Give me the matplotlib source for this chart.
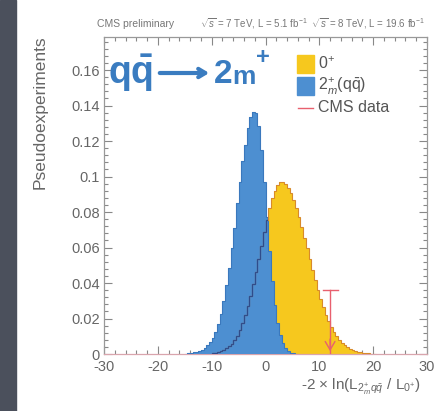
import matplotlib
matplotlib.use("Agg")
import numpy as np
import matplotlib.pyplot as plt
from matplotlib.patches import Rectangle
from matplotlib.ticker import MultipleLocator, FixedLocator, FixedFormatter

plt.rcParams["font.family"] = ["Liberation Sans", "DejaVu Sans"]
plt.rcParams["mathtext.fontset"] = "custom"
plt.rcParams["mathtext.rm"] = "Liberation Sans"
plt.rcParams["mathtext.it"] = "Liberation Sans:italic"
plt.rcParams["mathtext.bf"] = "Liberation Sans:bold"

# pseudo-experiment distributions, bin width 0.5
BIN_W = 0.5
blue_start = -15.0   # 2+m(qq) hypothesis
blue_vals = [
    0.0002, 0.0004, 0.0006, 0.0009, 0.0013, 0.0018, 0.0025, 0.0035, 0.0048, 0.0065,
    0.0089, 0.0124, 0.0169, 0.0228, 0.0300, 0.0386, 0.0486, 0.0598, 0.0709, 0.0851,
    0.0968, 0.1086, 0.1178, 0.1275, 0.1335, 0.1366, 0.1360, 0.1285, 0.1148, 0.0968,
    0.0772, 0.0581, 0.0414, 0.0278, 0.0177, 0.0106, 0.0060, 0.0032, 0.0016, 0.0008,
    0.0004, 0.0002,
]
yellow_start = -10.0  # 0+ hypothesis
yellow_vals = [
    0.0005, 0.0007, 0.0010, 0.0015, 0.0022, 0.0031, 0.0043, 0.0058, 0.0078, 0.0103,
    0.0135, 0.0172, 0.0217, 0.0269, 0.0327, 0.0392, 0.0462, 0.0536, 0.0611, 0.0685,
    0.0756, 0.0821, 0.0877, 0.0921, 0.0952, 0.0968, 0.0969, 0.0958, 0.0938, 0.0908,
    0.0869, 0.0823, 0.0771, 0.0715, 0.0655, 0.0595, 0.0533, 0.0473, 0.0416, 0.0361,
    0.0310, 0.0263, 0.0221, 0.0184, 0.0152, 0.0123, 0.0099, 0.0079, 0.0062, 0.0048,
    0.0037, 0.0029, 0.0022, 0.0016, 0.0012, 0.0009, 0.0006, 0.0004, 0.0003, 0.0002,
    0.0001,
]
obs_value = 12.0
obs_height = 0.036

x_ticks = [-30, -20, -10, 0, 10, 20, 30]
x_labels = ["-30", "-20", "-10", "0", "10", "20", "30"]
y_ticks = [0, 0.02, 0.04, 0.06, 0.08, 0.1, 0.12, 0.14, 0.16]
y_labels = ["0", "0.02", "0.04", "0.06", "0.08", "0.1", "0.12", "0.14", "0.16"]

YELLOW = "#f6c81e"
YELLOW_EDGE = "#d88a2a"
BLUE = "#4d8fd1"
BLUE_EDGE = "#3a78bd"
NAVY = "#2f4c8c"
RED = "#e8606e"
TXT = "#666666"
BIG = "#3a7cc0"

W, H = 441, 411


def fx(px):
    return px / W


def fy(py):
    return 1 - py / H


fig = plt.figure(figsize=(W / 100, H / 100), dpi=100)
fig.patch.set_facecolor("white")
fig.add_artist(Rectangle((0, 0), fx(16), 1, transform=fig.transFigure, color="#4b505c", zorder=0))

ax = fig.add_axes([fx(104), fy(354), fx(427) - fx(104), fy(37) - fy(354)])

blue_edges = blue_start + BIN_W * np.arange(len(blue_vals) + 1)
yellow_edges = yellow_start + BIN_W * np.arange(len(yellow_vals) + 1)

ax.stairs(yellow_vals, yellow_edges, fill=True, color=YELLOW, zorder=2)
blue_fill = ax.stairs(blue_vals, blue_edges, fill=True, color=BLUE, zorder=3)
ax.stairs(blue_vals, blue_edges, color=BLUE_EDGE, lw=0.8, zorder=4)
ax.stairs(yellow_vals, yellow_edges, color=YELLOW_EDGE, lw=0.8, zorder=4)
inner = ax.stairs(yellow_vals, yellow_edges, color=NAVY, lw=0.9, zorder=5)
inner.set_clip_path(blue_fill)

# observed value
ax.plot([obs_value, obs_value], [0, obs_height], color=RED, lw=1.0, zorder=6)
ax.plot([obs_value - 1.4, obs_value + 1.4], [obs_height, obs_height], color=RED, lw=1.0, zorder=6)
ax.annotate("", xy=(obs_value, 0), xytext=(obs_value, 0.01),
            arrowprops=dict(arrowstyle="->,head_length=0.6,head_width=0.35", color=RED, lw=1.0), zorder=6)

ax.set_xlim(-30, 30)
ax.set_ylim(0, 0.1786)
ax.xaxis.set_major_locator(FixedLocator(x_ticks))
ax.xaxis.set_major_formatter(FixedFormatter(x_labels))
ax.yaxis.set_major_locator(FixedLocator(y_ticks))
ax.yaxis.set_major_formatter(FixedFormatter(y_labels))
ax.xaxis.set_minor_locator(MultipleLocator(2))
ax.yaxis.set_minor_locator(MultipleLocator(0.004))
ax.tick_params(which="both", direction="in", top=True, right=True, color="#888888", width=0.8)
ax.tick_params(which="major", length=6)
ax.tick_params(which="minor", length=3)
ax.tick_params(axis="both", labelsize=10.5, labelcolor=TXT)
ax.tick_params(axis="x", pad=4)
ax.tick_params(axis="y", pad=3)
for s in ax.spines.values():
    s.set_color("#999999")
    s.set_linewidth(0.9)
ax.spines["bottom"].set_color("#d9a5ad")

# header
fig.text(fx(97), fy(24), "CMS preliminary", fontsize=7.5, color="#777777", ha="left", va="center")
fig.text(fx(425), fy(24), r"$\sqrt{s}$ = 7 TeV, L = 5.1 fb$^{-1}$  $\sqrt{s}$ = 8 TeV, L = 19.6 fb$^{-1}$",
         fontsize=7, color="#777777", ha="right", va="center")

# axis titles
fig.text(fx(40), fy(112), "Pseudoexperiments", rotation=90, fontsize=12.5, color=TXT, ha="center", va="center")
fig.text(fx(421), fy(390), r"-2 $\times$ ln(L$_{2^{+}_{m}q\bar{q}}$ / L$_{0^{+}}$)",
         fontsize=11, color=TXT, ha="right", va="baseline")

# big overlay label
fig.text(fx(108), fy(84), r"$\mathbf{q\bar{q}}$", fontsize=27, color=BIG, ha="left", va="baseline")
ax.annotate("", xy=(212, H - 73), xytext=(157, H - 73), xycoords="figure pixels",
            arrowprops=dict(arrowstyle="->,head_length=0.5,head_width=0.3", color=BIG, lw=3))
fig.text(fx(214), fy(83), "2", fontsize=24, color=BIG, fontweight="bold", ha="left", va="baseline")
fig.text(fx(232), fy(84), "m", fontsize=19, color=BIG, fontweight="bold", ha="left", va="baseline")
fig.text(fx(263), fy(57), "+", fontsize=17, color=BIG, fontweight="bold", ha="center", va="center")

# legend
fig.add_artist(Rectangle((fx(297), fy(73)), fx(17), fy(55) - fy(73), transform=fig.transFigure, color=YELLOW))
fig.add_artist(Rectangle((fx(297), fy(95)), fx(17), fy(77) - fy(95), transform=fig.transFigure, color=BLUE))
fig.add_artist(plt.Line2D([fx(298), fx(313)], [fy(108), fy(108)], transform=fig.transFigure, color=RED, lw=1))
fig.text(fx(318), fy(64), r"0$^{+}$", fontsize=11.5, color="#555555", ha="left", va="center")
fig.text(fx(318), fy(86), r"2$^{+}_{m}$(q$\bar{\rm q}$)", fontsize=11.5, color="#555555", ha="left", va="center")
fig.text(fx(318), fy(108), "CMS data", fontsize=11.5, color="#555555", ha="left", va="center")

fig.savefig("out.png", dpi=100)
